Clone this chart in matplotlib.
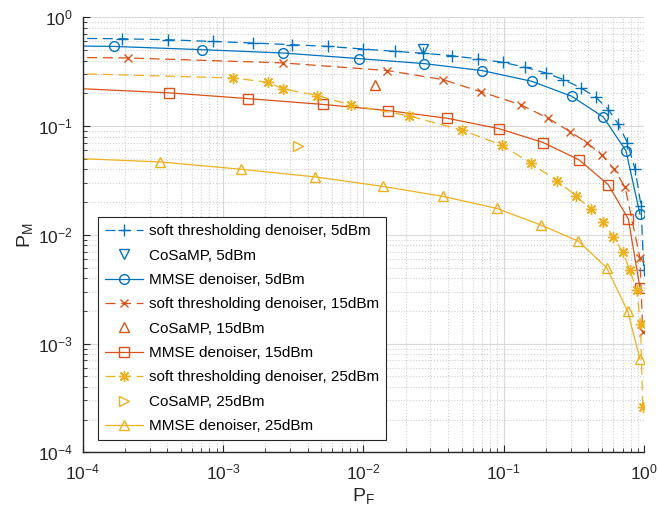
import matplotlib
matplotlib.use("Agg")
import matplotlib.pyplot as plt

plt.rcParams['font.family'] = ['Liberation Sans', 'DejaVu Sans']
plt.rcParams['mathtext.default'] = 'regular'

BLUE = '#0072BD'
ORANGE = '#D95319'
YELLOW = '#EDB120'

# soft thresholding denoiser, 5dBm
st5_pf = [5e-5, 1.90e-4, 4.05e-4, 8.43e-4, 1.64e-3, 3.09e-3, 5.62e-3, 9.97e-3, 0.0168, 0.0265,
          0.0425, 0.0658, 0.0991, 0.142, 0.199, 0.265, 0.352, 0.453, 0.555, 0.653, 0.757,
          0.859, 0.948, 0.990]
st5_pm = [0.645, 0.635, 0.622, 0.600, 0.580, 0.560, 0.540, 0.511, 0.486, 0.468,
          0.444, 0.414, 0.385, 0.347, 0.308, 0.268, 0.225, 0.184, 0.142, 0.104, 0.0705,
          0.0401, 0.0185, 0.0047]

# CoSaMP, 5dBm
cs5_pf = [0.0267]
cs5_pm = [0.511]

# MMSE denoiser, 5dBm
mm5_pf = [5e-5, 1.68e-4, 7.07e-4, 2.66e-3, 9.35e-3, 0.0272, 0.0698, 0.158, 0.304, 0.511, 0.741, 0.931]
mm5_pm = [0.55, 0.540, 0.504, 0.470, 0.417, 0.375, 0.324, 0.258, 0.188, 0.121, 0.0590, 0.0155]

# soft thresholding denoiser, 15dBm
st15_pf = [5e-5, 2.12e-4, 2.66e-3, 0.0148, 0.0367, 0.0684, 0.132, 0.207, 0.296, 0.389, 0.498,
           0.611, 0.730, 0.931, 0.975]
st15_pm = [0.43, 0.423, 0.381, 0.324, 0.268, 0.207, 0.157, 0.118, 0.0889, 0.0705, 0.0543,
           0.0401, 0.0273, 0.00614, 0.00128]

# CoSaMP, 15dBm
cs15_pf = [0.0121]
cs15_pm = [0.241]

# MMSE denoiser, 15dBm
mm15_pf = [5e-5, 4.15e-4, 1.50e-3, 5.19e-3, 0.0149, 0.0395, 0.0923, 0.191, 0.344, 0.555, 0.769, 0.931]
mm15_pm = [0.23, 0.202, 0.179, 0.158, 0.139, 0.118, 0.0947, 0.0705, 0.0488, 0.0288, 0.0140, 0.00327]

# soft thresholding denoiser, 25dBm
st25_pf = [5e-5, 1.17e-3, 2.10e-3, 2.66e-3, 4.70e-3, 8.17e-3, 0.0212, 0.0501, 0.0967, 0.156,
           0.240, 0.325, 0.418, 0.506, 0.601, 0.702, 0.791, 0.883, 0.940, 0.975]
st25_pm = [0.31, 0.277, 0.253, 0.220, 0.191, 0.156, 0.124, 0.0919, 0.0670, 0.0453,
           0.0314, 0.0229, 0.0171, 0.0132, 0.00963, 0.00693, 0.00470, 0.00313, 0.00150, 2.60e-4]

# CoSaMP, 25dBm
cs25_pf = [3.44e-3]
cs25_pm = [0.0656]

# MMSE denoiser, 25dBm
mm25_pf = [5e-5, 3.56e-4, 1.34e-3, 4.52e-3, 0.0137, 0.0367, 0.0889, 0.184, 0.339, 0.540, 0.762, 0.931]
mm25_pm = [0.052, 0.0468, 0.0401, 0.0341, 0.0279, 0.0226, 0.0175, 0.0123, 0.00874, 0.00498,
           0.00198, 7.19e-4]

fig = plt.figure(figsize=(6.58, 5.14), dpi=100)
ax = fig.add_axes([0.1254, 0.12, 0.8538, 0.8463])

lw = 0.9
ms = 7
dash = (8, 4.5)

ax.plot(st5_pf, st5_pm, '--', color=BLUE, lw=lw, dashes=dash, marker='+', ms=ms + 1,
        label='soft thresholding denoiser, 5dBm')
ax.plot(cs5_pf, cs5_pm, linestyle='none', color=BLUE, marker='v', ms=ms, mfc='none',
        label='CoSaMP, 5dBm')
ax.plot(mm5_pf, mm5_pm, '-', color=BLUE, lw=lw, marker='o', ms=ms, mfc='none',
        label='MMSE denoiser, 5dBm')
ax.plot(st15_pf, st15_pm, '--', color=ORANGE, lw=lw, dashes=dash, marker='x', ms=ms - 1,
        label='soft thresholding denoiser, 15dBm')
ax.plot(cs15_pf, cs15_pm, linestyle='none', color=ORANGE, marker='^', ms=ms, mfc='none',
        label='CoSaMP, 15dBm')
ax.plot(mm15_pf, mm15_pm, '-', color=ORANGE, lw=lw, marker='s', ms=ms - 0.5, mfc='none',
        label='MMSE denoiser, 15dBm')
ax.plot(st25_pf, st25_pm, '--', color=YELLOW, lw=lw, dashes=dash, marker=(8, 2, 0), ms=ms + 1,
        label='soft thresholding denoiser, 25dBm')
ax.plot(cs25_pf, cs25_pm, linestyle='none', color=YELLOW, marker='>', ms=ms, mfc='none',
        label='CoSaMP, 25dBm')
ax.plot(mm25_pf, mm25_pm, '-', color=YELLOW, lw=lw, marker='^', ms=ms, mfc='none',
        label='MMSE denoiser, 25dBm')

ax.set_xscale('log')
ax.set_yscale('log')
ax.set_xlim(1e-4, 1)
ax.set_ylim(1e-4, 1)

ax.grid(True, which='major', color='#dadada', linestyle='-', lw=0.8)
ax.grid(True, which='minor', color='#d0d0d0', linestyle=':', lw=0.8)
ax.set_axisbelow(True)

for s in ['top', 'right']:
    ax.spines[s].set_visible(False)
for s in ['left', 'bottom']:
    ax.spines[s].set_color('#262626')
    ax.spines[s].set_linewidth(1.0)

ax.tick_params(which='both', direction='in', colors='#262626', labelsize=12.5)
ax.tick_params(which='major', length=5, width=0.8, pad=7)
ax.tick_params(which='minor', length=3, width=0.6)

ax.set_xlabel('$P_F$', fontsize=14, color='#262626', labelpad=3)
ax.set_ylabel('$P_M$', fontsize=14, color='#262626', labelpad=2)

leg = ax.legend(loc='lower left', bbox_to_anchor=(0.028, 0.028), borderaxespad=0,
                fontsize=11, frameon=True, fancybox=False, framealpha=1,
                handlelength=2.5, handletextpad=0.35, borderpad=0.45, labelspacing=0.68)
leg.get_frame().set_edgecolor('#262626')
leg.get_frame().set_linewidth(0.8)

fig.savefig('out.png', dpi=100)
